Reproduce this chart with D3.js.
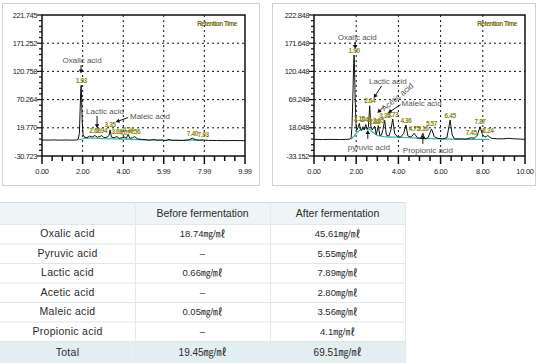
<!DOCTYPE html>
<html>
<head>
<meta charset="utf-8">
<script src="https://cdn.jsdelivr.net/npm/d3@7"></script>
<style>
  body { margin: 0; background: #fff; }
  svg { display: block; }
</style>
</head>
<body>
<svg id="fig" width="540" height="363"></svg>
<script>
// ---- chromatogram before fermentation (time min, signal) ----
const beforeYTicks = [-30.723, 19.770, 70.264, 120.758, 171.252, 221.745];
const beforeXTicks = [0, 2.00, 4.00, 5.99, 7.99, 9.99];
const beforeTrace = [
  [0.00,-2],[0.30,-2.2],[0.60,-2],[0.90,-2.3],[1.20,-2.1],[1.50,-2.3],[1.70,-2],[1.78,-1],
  [1.84,10],[1.88,55],[1.91,90],[1.93,96],[1.95,70],[1.98,30],[2.02,8],[2.08,3],[2.20,2],
  [2.35,5],[2.45,3],[2.60,6],[2.72,3],[2.85,4],[2.94,6],[3.05,2],[3.20,3],[3.30,6],[3.35,16],
  [3.42,3],[3.55,2],[3.69,4],[3.80,1],[3.95,2],[4.07,3],[4.15,1],[4.24,8],[4.32,1],[4.45,2],
  [4.56,4],[4.70,0],[4.90,-1],[5.10,-1.5],[5.30,-2.5],[5.50,-1],[5.65,-2.5],[5.90,-2],[6.10,-3],
  [6.25,-1],[6.35,-2.5],[6.60,-2.5],[6.90,-3],[7.20,-2],[7.40,1],[7.55,-1.5],[7.75,-2.5],
  [7.93,-2],[8.20,-2.8],[8.60,-3],[9.00,-3.2],[9.40,-3],[9.99,-3.3]
];
const beforeBase = [
  [1.80,-2],[2.10,1],[2.50,1.5],[3.00,0.5],[3.50,0],[4.00,-0.5],[4.50,-1],[5.00,-2],
  [6.00,-2.5],[7.00,-2.5],[7.50,-2],[7.93,-2.5]
];
const beforePeaks = [1.93, 2.60, 2.94, 3.35, 3.69, 4.07, 4.24, 4.56, 7.40, 7.93];

// ---- chromatogram after fermentation ----
const afterYTicks = [-33.152, 18.048, 69.248, 120.448, 171.648, 222.848];
const afterXTicks = [0, 2, 4, 6, 8, 10];
const afterTrace = [
  [0.00,-3],[0.40,-3.2],[0.80,-3],[1.20,-3.3],[1.50,-3],[1.70,-2.5],[1.76,0],[1.80,20],
  [1.84,70],[1.88,135],[1.90,150],[1.92,130],[1.95,70],[1.99,25],[2.03,14],[2.08,18],
  [2.15,26],[2.20,15],[2.26,13],[2.32,20],[2.38,14],[2.45,24],[2.52,15],[2.58,20],[2.64,58],
  [2.70,20],[2.76,14],[2.82,18],[2.88,21],[2.95,6],[3.05,22],[3.12,4],[3.20,5],[3.27,15],
  [3.35,32],[3.43,5],[3.55,3],[3.65,15],[3.73,34],[3.82,8],[3.95,2],[4.10,1],[4.25,8],
  [4.36,23],[4.45,3],[4.60,1],[4.75,8],[4.90,0],[5.05,-1],[5.16,8],[5.25,-2],[5.40,0],
  [5.57,16],[5.70,2],[5.85,-1],[6.10,-2],[6.30,0],[6.45,32],[6.55,5],[6.65,-2],[6.90,-2],
  [7.20,-2.5],[7.45,0],[7.60,-1],[7.75,5],[7.87,20],[7.98,6],[8.10,1],[8.24,4],[8.40,-1],
  [8.70,-2],[9.00,-2],[9.20,-1],[9.50,-2],[9.80,-2.5],[10.00,-3]
];
const afterBase = [
  [1.75,-3],[1.90,3],[2.05,10],[2.25,16],[2.45,18],[2.60,16],[2.80,10],[3.00,4],[3.30,2],
  [3.60,1],[4.00,1],[4.50,0],[5.00,-1],[5.50,-1.5],[6.00,-2],[6.50,-2.5],[7.00,-3],
  [7.50,-3],[8.00,-3],[8.30,-3]
];
const afterPeaks = [1.90, 2.15, 2.45, 2.64, 2.88, 3.05, 3.35, 3.73, 4.36, 4.75, 5.16, 5.57, 6.45, 7.45, 7.87, 8.24];

// ---- table ----
const acids = ["Oxalic acid", "Pyruvic acid", "Lactic acid", "Acetic acid", "Maleic acid", "Propionic acid"];
const beforeValues = ["18.74", null, "0.66", null, "0.05", null];
const afterValues = ["45.61", "5.55", "7.89", "2.80", "3.56", "4.1"];
const totals = ["19.45", "69.51"];
const columns = ["", "Before fermentation", "After fermentation"];

const svg = d3.select("#fig");
const axisFont = "Liberation Sans, Arial, sans-serif";

function drawChart(opts) {
  const g = svg.append("g");
  const [pl, pr, pt, pb] = opts.plot;
  const x = d3.scaleLinear().domain(opts.xDomain).range([pl, pr]);
  const y = d3.scaleLinear().domain(d3.extent(opts.yTicks)).range([pb, pt]);

  // panel border
  g.append("rect").attr("x", opts.panel[0] + 0.5).attr("y", opts.panel[1] + 0.5)
    .attr("width", opts.panel[2]).attr("height", opts.panel[3])
    .attr("fill", "#fff").attr("stroke", "#d0d0d0");

  // grid
  g.selectAll(".gx").data(opts.xTicks.slice(1, -1)).join("line")
    .attr("x1", d => x(d)).attr("x2", d => x(d)).attr("y1", pt).attr("y2", pb)
    .attr("stroke", "#111").attr("stroke-dasharray", "2,3");
  g.selectAll(".gy").data(opts.yTicks.slice(1, -1)).join("line")
    .attr("x1", pl).attr("x2", pr).attr("y1", d => y(d)).attr("y2", d => y(d))
    .attr("stroke", "#111").attr("stroke-dasharray", "2,3");

  // minor ticks
  const xt = opts.xTicks;
  for (let i = 0; i < xt.length - 1; i++) {
    for (let k = 1; k < 4; k++) {
      const xv = x(xt[i] + (xt[i + 1] - xt[i]) * k / 4);
      g.append("line").attr("x1", xv).attr("x2", xv).attr("y1", pb).attr("y2", pb + 5)
        .attr("stroke", "#111").attr("stroke-width", 1.5);
    }
  }
  const yt = opts.yTicks;
  for (let i = 0; i < yt.length - 1; i++) {
    for (let k = 1; k < 5; k++) {
      const yv = y(yt[i] + (yt[i + 1] - yt[i]) * k / 5);
      g.append("line").attr("x1", pl - 3).attr("x2", pl).attr("y1", yv).attr("y2", yv)
        .attr("stroke", "#111").attr("stroke-width", 1.2);
    }
  }
  // major ticks + labels
  g.selectAll(".tx").data(xt).join("line")
    .attr("x1", d => x(d)).attr("x2", d => x(d)).attr("y1", pb).attr("y2", pb + 8)
    .attr("stroke", "#111").attr("stroke-width", 1.5);
  g.selectAll(".lx").data(xt).join("text")
    .attr("x", d => x(d)).attr("y", pb + 18).attr("text-anchor", "middle")
    .attr("font-family", axisFont).attr("font-size", 7.5).attr("fill", "#222")
    .attr("letter-spacing", -0.3).text(d => d.toFixed(2));
  g.selectAll(".ty").data(yt).join("line")
    .attr("x1", pl - 5).attr("x2", pl).attr("y1", d => y(d)).attr("y2", d => y(d))
    .attr("stroke", "#111").attr("stroke-width", 1.2);
  g.selectAll(".ly").data(yt).join("text")
    .attr("x", pl - 5).attr("y", d => y(d) + 2.5).attr("text-anchor", "end")
    .attr("font-family", axisFont).attr("font-size", 7.5).attr("fill", "#222")
    .attr("letter-spacing", -0.4).text(d => d.toFixed(3));

  // traces
  const line = d3.line().x(d => x(d[0])).y(d => y(d[1]));
  g.append("path").attr("d", line(opts.base)).attr("fill", "none")
    .attr("stroke", "#2bb5a8").attr("stroke-width", 1.2);
  g.append("path").attr("d", line(opts.trace)).attr("fill", "none")
    .attr("stroke", "#111").attr("stroke-width", 1);

  // peak labels
  g.selectAll(".pk").data(opts.peaks).join("text")
    .attr("x", d => x(d))
    .attr("y", d => y(opts.trace.find(p => Math.abs(p[0] - d) < 0.005)[1]) - 2.5)
    .attr("text-anchor", "middle").attr("font-family", axisFont).attr("font-size", 6.5)
    .attr("font-weight", "bold").attr("fill", "#8a8a10").attr("letter-spacing", -0.4)
    .text(d => d.toFixed(2));

  // retention time
  g.append("text").attr("x", pr - 8).attr("y", pt + 11).attr("text-anchor", "end")
    .attr("font-family", axisFont).attr("font-size", 6.5).attr("font-weight", "bold")
    .attr("fill", "#6b6b00").attr("letter-spacing", -0.5).text("Retention Time");

  // compound annotations
  opts.notes.forEach(n => {
    const t = g.append("text").attr("font-family", axisFont).attr("font-size", 8)
      .attr("fill", "#555").attr("text-anchor", n.anchor || "middle").text(n.text);
    if (n.rotate) {
      t.attr("transform", `translate(${x(n.at[0])},${y(n.at[1])}) rotate(${n.rotate})`)
        .attr("dy", "0.35em");
    } else {
      t.attr("x", x(n.at[0])).attr("y", y(n.at[1])).attr("dy", "0.35em");
    }
    if (n.arrow) {
      const [a, b] = n.arrow;
      const x1 = x(a[0]), y1 = y(a[1]), x2 = x(b[0]), y2 = y(b[1]);
      const ang = Math.atan2(y2 - y1, x2 - x1);
      g.append("line").attr("x1", x1).attr("y1", y1)
        .attr("x2", x2 - 3 * Math.cos(ang)).attr("y2", y2 - 3 * Math.sin(ang))
        .attr("stroke", "#111").attr("stroke-width", 1);
      const h = 4, w = 2.2;
      const pts = [
        [x2, y2],
        [x2 - h * Math.cos(ang) + w * Math.sin(ang), y2 - h * Math.sin(ang) - w * Math.cos(ang)],
        [x2 - h * Math.cos(ang) - w * Math.sin(ang), y2 - h * Math.sin(ang) + w * Math.cos(ang)]
      ];
      g.append("polygon").attr("points", pts.map(p => p.join(",")).join(" ")).attr("fill", "#111");
    }
  });

  // frame
  g.append("rect").attr("x", pl).attr("y", pt).attr("width", pr - pl).attr("height", pb - pt)
    .attr("fill", "none").attr("stroke", "#111").attr("stroke-width", 1.5);
}

drawChart({
  panel: [2, 3, 257, 182],
  plot: [42, 245, 15, 156],
  xDomain: [0, 9.99],
  xTicks: beforeXTicks, yTicks: beforeYTicks,
  trace: beforeTrace, base: beforeBase, peaks: beforePeaks,
  notes: [
    { text: "Oxalic acid", at: [1.97, 141], arrow: [[1.92, 132], [1.92, 117]] },
    { text: "Lactic acid", at: [3.1, 50], arrow: [[2.71, 41], [2.71, 19]] },
    { text: "Maleic acid", at: [4.33, 41], anchor: "start", arrow: [[4.23, 38], [3.62, 30]] }
  ]
});

drawChart({
  panel: [272, 3, 263, 182],
  plot: [314, 525, 15, 156],
  xDomain: [0, 10],
  xTicks: afterXTicks, yTicks: afterYTicks,
  trace: afterTrace, base: afterBase, peaks: afterPeaks,
  notes: [
    { text: "Oxalic acid", at: [2.05, 183], arrow: [[1.95, 174], [1.95, 161]] },
    { text: "Lactic acid", at: [3.5, 103], arrow: [[3.2, 94], [2.83, 72]] },
    { text: "Acetic acid", at: [3.95, 74], rotate: -40, arrow: [[3.3, 56], [3.0, 45]] },
    { text: "Maleic acid", at: [4.15, 63], anchor: "start", arrow: [[4.1, 60], [3.5, 45]] },
    { text: "pyruvic acid", at: [2.6, -17], arrow: [[2.55, -2], [2.55, 14]] },
    { text: "Propionic acid", at: [5.4, -22], arrow: [[5.16, -11], [5.16, 5]] }
  ]
});

// ---- table ----
const tbl = svg.append("g");
const colX = [0, 135, 270, 405];
const headH = 22, rowH = 19.5;
const tableTop = 202;
const rowsY = d3.range(acids.length + 1).map(i => tableTop + headH + i * rowH);
const tableFont = "Liberation Sans, Arial, 'Noto Sans CJK KR', sans-serif";

tbl.append("rect").attr("x", 0).attr("y", tableTop).attr("width", 405).attr("height", headH).attr("fill", "#eff4f6");
tbl.append("rect").attr("x", 0).attr("y", rowsY[acids.length]).attr("width", 405)
  .attr("height", 363 - rowsY[acids.length]).attr("fill", "#e3eef0");
tbl.append("line").attr("x1", 0).attr("x2", 405).attr("y1", tableTop + 0.5).attr("y2", tableTop + 0.5).attr("stroke", "#cfe1e4");
rowsY.forEach(yy => {
  tbl.append("line").attr("x1", 0).attr("x2", 405).attr("y1", yy + 0.5).attr("y2", yy + 0.5).attr("stroke", "#e0e8ea");
});
[135, 270, 405].forEach(xx => {
  tbl.append("line").attr("x1", xx + 0.5).attr("x2", xx + 0.5).attr("y1", tableTop).attr("y2", 363).attr("stroke", "#e3eaec");
});

columns.forEach((c, i) => {
  tbl.append("text").attr("x", (colX[i] + colX[i + 1]) / 2).attr("y", tableTop + headH / 2).attr("dy", "0.35em")
    .attr("text-anchor", "middle").attr("font-family", tableFont).attr("font-size", 10.5)
    .attr("fill", "#2a2a2a").text(c);
});
const cell = (txt, col, yc, size) => tbl.append("text")
  .attr("x", (colX[col] + colX[col + 1]) / 2).attr("y", yc).attr("dy", "0.35em")
  .attr("text-anchor", "middle").attr("font-family", tableFont).attr("font-size", size)
  .attr("fill", "#2a2a2a").text(txt);

acids.forEach((a, i) => {
  const yc = rowsY[i] + rowH / 2;
  cell(a, 0, yc, 10.5).attr("letter-spacing", 0.3);
  cell(beforeValues[i] ? beforeValues[i] + "㎎/㎖" : "–", 1, yc, 9.5);
  cell(afterValues[i] + "㎎/㎖", 2, yc, 9.5);
});
const totY = (rowsY[acids.length] + 363) / 2;
cell("Total", 0, totY, 10.5).attr("letter-spacing", 0.3);
cell(totals[0] + "㎎/㎖", 1, totY, 10);
cell(totals[1] + "㎎/㎖", 2, totY, 10);
</script>
</body>
</html>
